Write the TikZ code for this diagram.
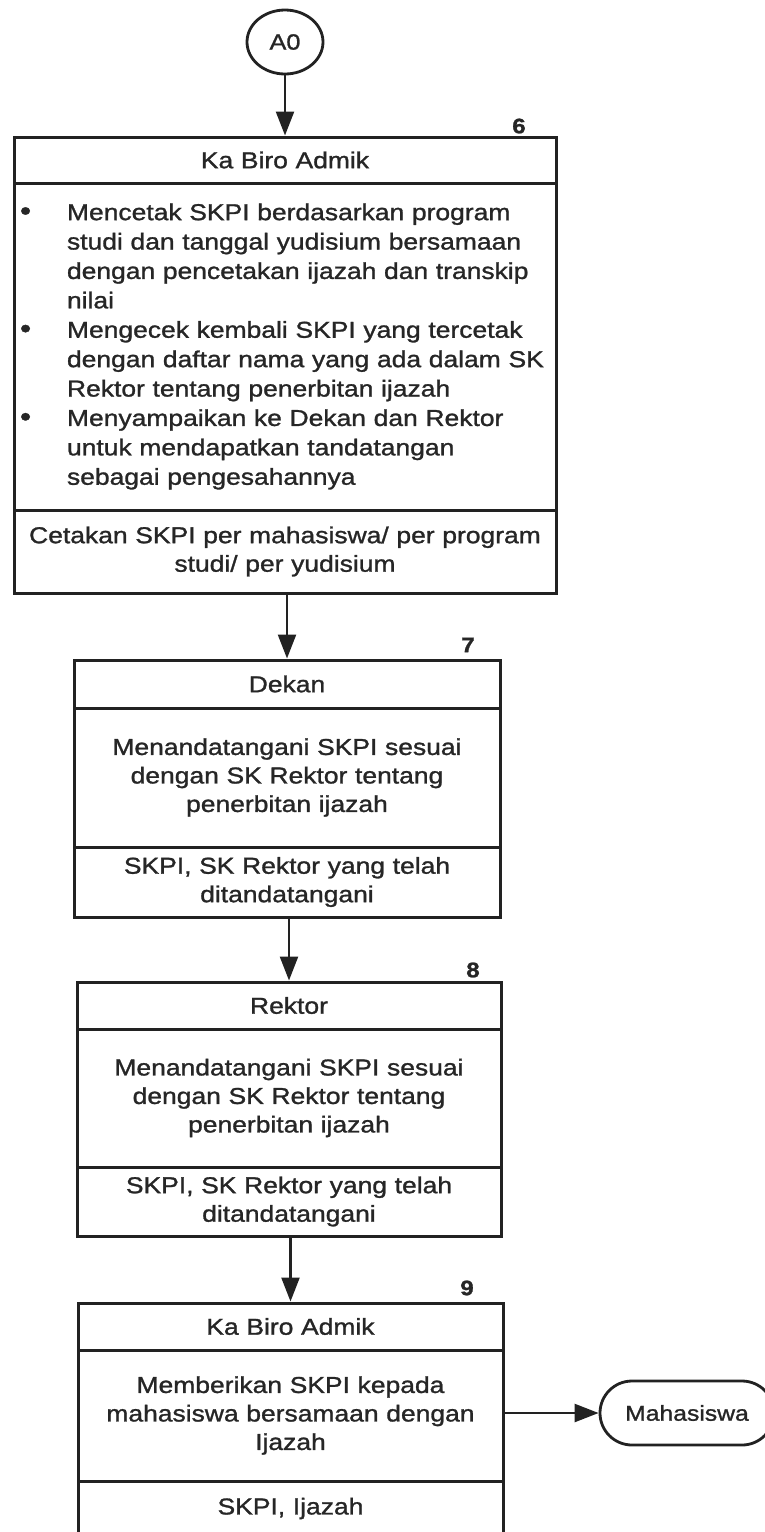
\documentclass[tikz,border=0pt]{standalone}
\usepackage{fontspec}
\setmainfont{Liberation Sans}[FakeStretch=1.15,FakeBold=1.2]
\usetikzlibrary{arrows.meta,shapes.geometric,shapes.misc}
\definecolor{ink}{HTML}{222222}
\definecolor{txt}{HTML}{262626}
\newcommand\bitemx{\makebox[53pt][l]{\hspace{6pt}\scalebox{1.2}{\textbullet}}}
\newcommand\bcontx{\hspace*{53pt}}
\begin{document}
\begin{tikzpicture}[x=1pt,y=-1pt,
  every node/.style={text=txt},
  cell/.style={draw=ink,line width=3pt,inner xsep=0pt,inner ysep=0pt,align=center,
    font=\fontsize{23}{28.5}\selectfont},
  arr/.style={draw=ink,line width=2.4pt,-{Triangle[length=24pt,width=18pt]}},
  num/.style={font=\bfseries\fontsize{21}{21}\selectfont,inner sep=0pt}
]
\useasboundingbox[fill=white] (0,0) rectangle (764,1532);

% connector A0
\node[ellipse,draw=ink,line width=2.8pt,minimum width=76pt,minimum height=64pt,inner sep=0pt,
  font=\fontsize{22}{22}\selectfont] (a0) at (285,42) {A0};

% step 6
\node[cell,minimum width=542pt,minimum height=46pt,text width=542pt] (t6) at (285,160) {Ka Biro Admik};
\node[cell,minimum width=542pt,minimum height=327pt,text width=542pt,align=left,
  font=\fontsize{23}{29.4}\selectfont] (b6) at (285,346.5) {%
\bitemx Mencetak SKPI berdasarkan program\\
\bcontx studi dan tanggal yudisium bersamaan\\
\bcontx dengan pencetakan ijazah dan transkip\\
\bcontx nilai\\
\bitemx Mengecek kembali SKPI yang tercetak\\
\bcontx dengan daftar nama yang ada dalam SK\\
\bcontx Rektor tentang penerbitan ijazah\\
\bitemx Menyampaikan ke Dekan dan Rektor\\
\bcontx untuk mendapatkan tandatangan\\
\bcontx sebagai pengesahannya};
\node[cell,minimum width=542pt,minimum height=83pt,text width=542pt] (o6) at (285,551.5)
  {Cetakan SKPI per mahasiswa/ per program\\studi/ per yudisium};
\node[num] (n6) at (519,126) {6};

% step 7
\node[cell,minimum width=426pt,minimum height=48pt,text width=426pt] (t7) at (287,684) {Dekan};
\node[cell,minimum width=426pt,minimum height=139pt,text width=426pt] (b7) at (287,777.5)
  {Menandatangani SKPI sesuai\\dengan SK Rektor tentang\\penerbitan ijazah};
\node[cell,minimum width=426pt,minimum height=70pt,text width=426pt] (o7) at (287,882)
  {SKPI, SK Rektor yang telah\\ditandatangani};
\node[num] (n7) at (468,645) {7};

% step 8
\node[cell,minimum width=424pt,minimum height=47pt,text width=424pt] (t8) at (289,1005.5) {Rektor};
\node[cell,minimum width=424pt,minimum height=138pt,text width=424pt] (b8) at (289,1098)
  {Menandatangani SKPI sesuai\\dengan SK Rektor tentang\\penerbitan ijazah};
\node[cell,minimum width=424pt,minimum height=69pt,text width=424pt] (o8) at (289,1201.5)
  {SKPI, SK Rektor yang telah\\ditandatangani};
\node[num] (n8) at (473,970) {8};

% step 9
\node[cell,minimum width=425pt,minimum height=47pt,text width=425pt] (t9) at (290.5,1326.5) {Ka Biro Admik};
\node[cell,minimum width=425pt,minimum height=131pt,text width=425pt] (b9) at (290.5,1415.5)
  {Memberikan SKPI kepada\\mahasiswa bersamaan dengan\\Ijazah};
\node[cell,minimum width=425pt,minimum height=55pt,text width=425pt] (o9) at (290.5,1508.5)
  {SKPI, Ijazah};
\node[num] (n9) at (467,1288) {9};

% terminator
\node[rounded rectangle,draw=ink,line width=2.8pt,minimum width=174pt,minimum height=64pt,
  inner sep=0pt,font=\fontsize{21.5}{21.5}\selectfont] (mhs) at (687,1413) {Mahasiswa};

% connectors
\draw[arr] (a0) -- (t6);
\draw[arr] (o6.south -| t7) -- (t7.north);
\draw[arr] (o7.south -| t8) -- (t8.north);
\draw[arr] (o8.south -| t9) -- (t9.north);
\draw[arr] (b9.east |- mhs.west) -- (mhs.west);
\end{tikzpicture}
\end{document}
